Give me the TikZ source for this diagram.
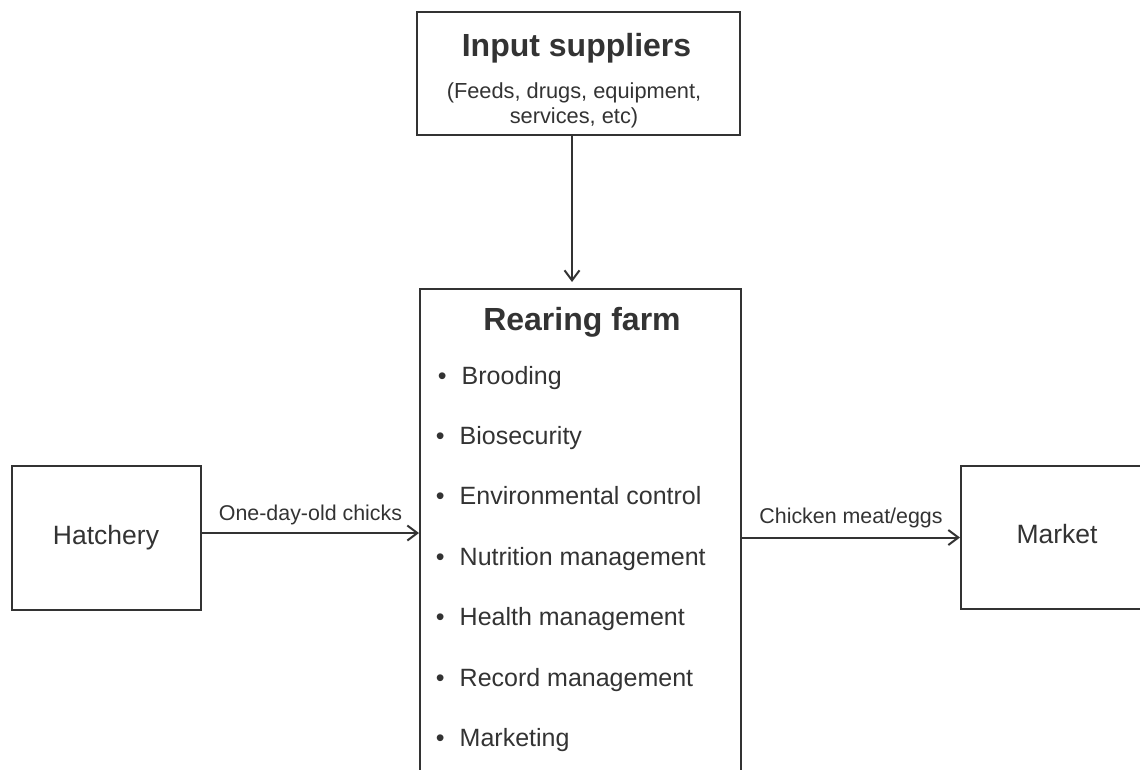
\documentclass[tikz,border=0pt]{standalone}
\usepackage{fontspec}
\setmainfont{Liberation Sans}
\usetikzlibrary{arrows.meta}
\definecolor{ink}{HTML}{333333}
\begin{document}
\begin{tikzpicture}[x=1pt,y=-1pt,
  box/.style={draw=ink, line width=2pt, inner sep=0pt, fill=none},
  flow/.style={draw=ink, line width=2pt, -{Straight Barb[length=10pt,width=15pt]}},
  txt/.style={text=ink, inner sep=0pt},
  headline/.style={txt, anchor=base, font=\fontsize{32}{38}\selectfont\bfseries},
  subline/.style={txt, anchor=base, font=\fontsize{21.8}{25}\selectfont},
  boxlabel/.style={txt, anchor=base, font=\fontsize{26.5}{30}\selectfont},
  item/.style={txt, anchor=base west, font=\fontsize{25}{30}\selectfont},
  flowlabel/.style={txt, anchor=base, font=\fontsize{21.4}{25}\selectfont}]
\useasboundingbox (0,0) rectangle (1140,769);
\clip (0,0) rectangle (1140,769);

% boxes
\node[box, minimum width=323pt, minimum height=123pt] (input) at (578.5,73.5) {};
\node[box, minimum width=321pt, minimum height=511pt] (farm) at (580.5,544.5) {};
\node[box, minimum width=189pt, minimum height=144pt] (hatch) at (106.5,538) {};
\node[box, minimum width=199pt, minimum height=143pt] (market) at (1060.5,537.5) {};

% box texts
\node[headline] (inputtitle) at (576.5,56) {Input suppliers};
\node[subline] (inputsub1) at (574,98) {(Feeds, drugs, equipment,};
\node[subline] (inputsub2) at (574,123) {services, etc)};
\node[headline] (farmtitle) at (582,330) {Rearing farm};
\node[boxlabel] (hatchlabel) at (106,544) {Hatchery};
\node[boxlabel] (marketlabel) at (1057,543) {Market};

% farm activities
\newcommand{\dotitem}{\llap{•\hspace{15pt}}}
\node[item] (i1) at (461.5,384.5) {\dotitem Brooding};
\node[item] (i2) at (459.5,444.5) {\dotitem Biosecurity};
\node[item] (i3) at (459.5,504) {\dotitem Environmental control};
\node[item] (i4) at (459.5,565.5) {\dotitem Nutrition management};
\node[item] (i5) at (459.5,625.5) {\dotitem Health management};
\node[item] (i6) at (459.5,686) {\dotitem Record management};
\node[item] (i7) at (459.5,746.5) {\dotitem Marketing};

% connectors
\coordinate (feed) at (572,0);
\draw[flow, shorten >=6pt] (feed |- input.south) -- (feed |- farm.north);
\draw[flow] ([yshift=5pt]hatch.east) -- ([yshift=5pt]hatch.east -| farm.west)
  node[flowlabel, midway, yshift=13pt] (chicks) {One-day-old chicks};
\draw[flow] (farm.east |- market.west) -- (market.west)
  node[flowlabel, midway, yshift=14pt] (produce) {Chicken meat/eggs};
\end{tikzpicture}
\end{document}
